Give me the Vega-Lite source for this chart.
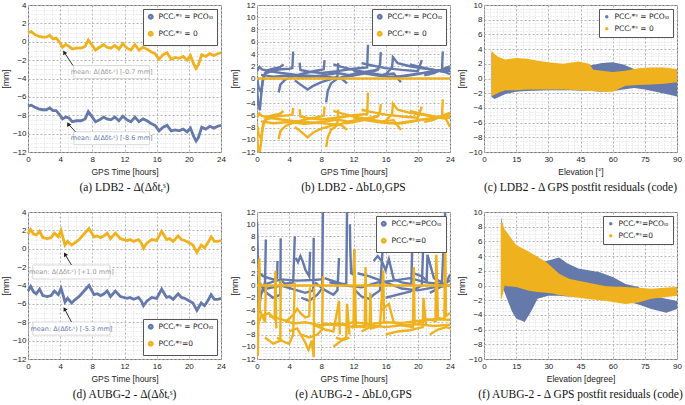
{
"$schema": "https://vega.github.io/schema/vega-lite/v6.json",
"padding": {"left": 0, "top": 0, "right": 0, "bottom": 2},
"background": "white",
"config": {
  "font": "Liberation Sans",
  "view": {"stroke": "#777", "strokeWidth": 1},
  "axis": {"labelFontSize": 8, "titleFontSize": 8.5, "labelColor": "#222", "titleColor": "#222", "titleFontWeight": "normal", "domain": false, "ticks": false, "labelPadding": 3, "titlePadding": 4, "labelOverlap": false, "labelFlush": false, "grid": true, "tickCount": 200},
  "axisY": {"labelPadding": 2, "titlePadding": 2},
  "legend": {"offset": 4, "strokeColor": "#555", "fillColor": "white", "padding": 4, "labelFont": "DejaVu Sans", "labelFontSize": 7.5, "labelColor": "#222", "symbolType": "circle", "symbolSize": 12, "symbolStrokeWidth": 2.5, "rowPadding": 3, "labelLimit": 200, "cornerRadius": 0},
  "title": {"font": "Liberation Serif", "fontSize": 11.5, "fontWeight": "normal", "color": "#111", "offset": 6, "orient": "bottom", "anchor": "middle"}
},
"datasets": {
  "a": [
    {"t":0,"v":1.0,"s":"zero"},{"t":0.4,"v":1.1,"s":"zero"},{"t":0.8,"v":0.8,"s":"zero"},{"t":1.3,"v":0.6,"s":"zero"},{"t":1.8,"v":0.5,"s":"zero"},{"t":2.3,"v":0.5,"s":"zero"},{"t":2.7,"v":0.7,"s":"zero"},{"t":3.1,"v":0.3,"s":"zero"},{"t":3.5,"v":0.4,"s":"zero"},{"t":3.9,"v":0.0,"s":"zero"},{"t":4.3,"v":-0.6,"s":"zero"},{"t":4.7,"v":-0.3,"s":"zero"},{"t":5.1,"v":-0.5,"s":"zero"},{"t":5.5,"v":-0.8,"s":"zero"},{"t":6.0,"v":-0.7,"s":"zero"},{"t":6.6,"v":-0.7,"s":"zero"},{"t":7.1,"v":-0.5,"s":"zero"},{"t":7.5,"v":0.2,"s":"zero"},{"t":7.9,"v":-0.3,"s":"zero"},{"t":8.4,"v":-0.9,"s":"zero"},{"t":8.9,"v":-0.6,"s":"zero"},{"t":9.4,"v":-0.3,"s":"zero"},{"t":9.8,"v":-0.6,"s":"zero"},{"t":10.3,"v":-0.7,"s":"zero"},{"t":10.8,"v":-0.4,"s":"zero"},{"t":11.3,"v":-0.8,"s":"zero"},{"t":11.8,"v":-0.2,"s":"zero"},{"t":12.3,"v":-0.7,"s":"zero"},{"t":12.8,"v":-0.9,"s":"zero"},{"t":13.3,"v":-0.3,"s":"zero"},{"t":13.8,"v":-0.9,"s":"zero"},{"t":14.3,"v":-0.6,"s":"zero"},{"t":14.8,"v":-0.8,"s":"zero"},{"t":15.3,"v":-1.1,"s":"zero"},{"t":15.8,"v":-1.3,"s":"zero"},{"t":16.3,"v":-1.9,"s":"zero"},{"t":16.8,"v":-1.4,"s":"zero"},{"t":17.3,"v":-1.2,"s":"zero"},{"t":17.8,"v":-1.9,"s":"zero"},{"t":18.3,"v":-1.7,"s":"zero"},{"t":18.8,"v":-1.8,"s":"zero"},{"t":19.3,"v":-1.6,"s":"zero"},{"t":19.8,"v":-2.0,"s":"zero"},{"t":20.2,"v":-1.5,"s":"zero"},{"t":20.6,"v":-2.4,"s":"zero"},{"t":20.9,"v":-2.9,"s":"zero"},{"t":21.2,"v":-2.5,"s":"zero"},{"t":21.6,"v":-1.4,"s":"zero"},{"t":22.1,"v":-1.6,"s":"zero"},{"t":22.6,"v":-1.3,"s":"zero"},{"t":23.1,"v":-1.5,"s":"zero"},{"t":23.6,"v":-1.3,"s":"zero"},{"t":24,"v":-1.2,"s":"zero"},
    {"t":0,"v":-7.0,"s":"pco"},{"t":0.4,"v":-6.9,"s":"pco"},{"t":0.8,"v":-7.1,"s":"pco"},{"t":1.3,"v":-7.3,"s":"pco"},{"t":1.8,"v":-7.4,"s":"pco"},{"t":2.3,"v":-7.4,"s":"pco"},{"t":2.7,"v":-7.2,"s":"pco"},{"t":3.1,"v":-7.5,"s":"pco"},{"t":3.5,"v":-7.5,"s":"pco"},{"t":3.9,"v":-7.9,"s":"pco"},{"t":4.3,"v":-8.4,"s":"pco"},{"t":4.7,"v":-8.2,"s":"pco"},{"t":5.1,"v":-8.3,"s":"pco"},{"t":5.5,"v":-8.7,"s":"pco"},{"t":6.0,"v":-8.6,"s":"pco"},{"t":6.6,"v":-8.6,"s":"pco"},{"t":7.1,"v":-8.4,"s":"pco"},{"t":7.5,"v":-7.6,"s":"pco"},{"t":7.9,"v":-8.1,"s":"pco"},{"t":8.4,"v":-8.7,"s":"pco"},{"t":8.9,"v":-8.5,"s":"pco"},{"t":9.4,"v":-8.2,"s":"pco"},{"t":9.8,"v":-8.4,"s":"pco"},{"t":10.3,"v":-8.5,"s":"pco"},{"t":10.8,"v":-8.2,"s":"pco"},{"t":11.3,"v":-8.6,"s":"pco"},{"t":11.8,"v":-8.1,"s":"pco"},{"t":12.3,"v":-8.5,"s":"pco"},{"t":12.8,"v":-8.7,"s":"pco"},{"t":13.3,"v":-8.2,"s":"pco"},{"t":13.8,"v":-8.7,"s":"pco"},{"t":14.3,"v":-8.4,"s":"pco"},{"t":14.8,"v":-8.6,"s":"pco"},{"t":15.3,"v":-8.9,"s":"pco"},{"t":15.8,"v":-9.1,"s":"pco"},{"t":16.3,"v":-9.7,"s":"pco"},{"t":16.8,"v":-9.3,"s":"pco"},{"t":17.3,"v":-9.1,"s":"pco"},{"t":17.8,"v":-9.7,"s":"pco"},{"t":18.3,"v":-9.6,"s":"pco"},{"t":18.8,"v":-9.7,"s":"pco"},{"t":19.3,"v":-9.5,"s":"pco"},{"t":19.8,"v":-9.8,"s":"pco"},{"t":20.2,"v":-9.4,"s":"pco"},{"t":20.6,"v":-10.3,"s":"pco"},{"t":20.9,"v":-10.8,"s":"pco"},{"t":21.2,"v":-10.4,"s":"pco"},{"t":21.6,"v":-9.3,"s":"pco"},{"t":22.1,"v":-9.5,"s":"pco"},{"t":22.6,"v":-9.2,"s":"pco"},{"t":23.1,"v":-9.4,"s":"pco"},{"t":23.6,"v":-9.2,"s":"pco"},{"t":24,"v":-9.1,"s":"pco"}
  ],
  "d": [
    {"t":0,"v":1.6,"s":"zero"},{"t":0.33,"v":2.1,"s":"zero"},{"t":0.7,"v":1.6,"s":"zero"},{"t":1.03,"v":1.5,"s":"zero"},{"t":1.44,"v":1.9,"s":"zero"},{"t":1.85,"v":1.2,"s":"zero"},{"t":2.4,"v":1.1,"s":"zero"},{"t":2.87,"v":1.2,"s":"zero"},{"t":3.28,"v":1.7,"s":"zero"},{"t":3.77,"v":1.3,"s":"zero"},{"t":4.1,"v":2.0,"s":"zero"},{"t":4.35,"v":1.2,"s":"zero"},{"t":4.6,"v":0.4,"s":"zero"},{"t":4.92,"v":0.8,"s":"zero"},{"t":5.42,"v":0.4,"s":"zero"},{"t":5.9,"v":0.7,"s":"zero"},{"t":6.36,"v":1.0,"s":"zero"},{"t":6.97,"v":1.6,"s":"zero"},{"t":7.59,"v":2.2,"s":"zero"},{"t":8.21,"v":1.3,"s":"zero"},{"t":8.6,"v":1.4,"s":"zero"},{"t":9.03,"v":1.2,"s":"zero"},{"t":9.45,"v":1.4,"s":"zero"},{"t":9.85,"v":1.7,"s":"zero"},{"t":10.26,"v":1.1,"s":"zero"},{"t":10.87,"v":1.7,"s":"zero"},{"t":11.49,"v":1.1,"s":"zero"},{"t":12.31,"v":0.9,"s":"zero"},{"t":12.7,"v":1.0,"s":"zero"},{"t":13.13,"v":0.8,"s":"zero"},{"t":13.74,"v":1.0,"s":"zero"},{"t":14.1,"v":0.6,"s":"zero"},{"t":14.36,"v":0.05,"s":"zero"},{"t":14.77,"v":0.6,"s":"zero"},{"t":15.38,"v":1.0,"s":"zero"},{"t":16.0,"v":0.9,"s":"zero"},{"t":16.62,"v":1.9,"s":"zero"},{"t":17.23,"v":1.0,"s":"zero"},{"t":17.6,"v":1.1,"s":"zero"},{"t":18.05,"v":0.8,"s":"zero"},{"t":18.67,"v":1.4,"s":"zero"},{"t":19.08,"v":1.0,"s":"zero"},{"t":19.5,"v":0.9,"s":"zero"},{"t":19.9,"v":0.7,"s":"zero"},{"t":20.51,"v":0.4,"s":"zero"},{"t":21.0,"v":-0.4,"s":"zero"},{"t":21.54,"v":0.4,"s":"zero"},{"t":21.95,"v":0.1,"s":"zero"},{"t":22.4,"v":0.7,"s":"zero"},{"t":22.77,"v":1.3,"s":"zero"},{"t":23.18,"v":0.8,"s":"zero"},{"t":23.6,"v":0.8,"s":"zero"},{"t":24,"v":0.9,"s":"zero"},
    {"t":0,"v":-4.6,"s":"pco"},{"t":0.33,"v":-4.1,"s":"pco"},{"t":0.7,"v":-4.7,"s":"pco"},{"t":1.03,"v":-4.9,"s":"pco"},{"t":1.44,"v":-4.4,"s":"pco"},{"t":1.85,"v":-5.1,"s":"pco"},{"t":2.4,"v":-5.2,"s":"pco"},{"t":2.87,"v":-5.1,"s":"pco"},{"t":3.28,"v":-4.6,"s":"pco"},{"t":3.77,"v":-5.0,"s":"pco"},{"t":4.1,"v":-4.3,"s":"pco"},{"t":4.35,"v":-5.0,"s":"pco"},{"t":4.6,"v":-5.8,"s":"pco"},{"t":4.92,"v":-5.4,"s":"pco"},{"t":5.42,"v":-5.9,"s":"pco"},{"t":5.9,"v":-5.5,"s":"pco"},{"t":6.36,"v":-5.2,"s":"pco"},{"t":6.97,"v":-4.6,"s":"pco"},{"t":7.59,"v":-4.0,"s":"pco"},{"t":8.21,"v":-5.0,"s":"pco"},{"t":8.6,"v":-4.9,"s":"pco"},{"t":9.03,"v":-5.1,"s":"pco"},{"t":9.45,"v":-4.9,"s":"pco"},{"t":9.85,"v":-4.6,"s":"pco"},{"t":10.26,"v":-5.2,"s":"pco"},{"t":10.87,"v":-4.6,"s":"pco"},{"t":11.49,"v":-5.2,"s":"pco"},{"t":12.31,"v":-5.4,"s":"pco"},{"t":12.7,"v":-5.3,"s":"pco"},{"t":13.13,"v":-5.5,"s":"pco"},{"t":13.74,"v":-5.3,"s":"pco"},{"t":14.1,"v":-5.7,"s":"pco"},{"t":14.36,"v":-6.2,"s":"pco"},{"t":14.77,"v":-5.7,"s":"pco"},{"t":15.38,"v":-5.3,"s":"pco"},{"t":16.0,"v":-5.4,"s":"pco"},{"t":16.62,"v":-4.4,"s":"pco"},{"t":17.23,"v":-5.3,"s":"pco"},{"t":17.6,"v":-5.2,"s":"pco"},{"t":18.05,"v":-5.5,"s":"pco"},{"t":18.67,"v":-4.9,"s":"pco"},{"t":19.08,"v":-5.3,"s":"pco"},{"t":19.5,"v":-5.4,"s":"pco"},{"t":19.9,"v":-5.6,"s":"pco"},{"t":20.51,"v":-5.9,"s":"pco"},{"t":21.0,"v":-6.7,"s":"pco"},{"t":21.54,"v":-5.9,"s":"pco"},{"t":21.95,"v":-6.2,"s":"pco"},{"t":22.4,"v":-5.6,"s":"pco"},{"t":22.77,"v":-5.0,"s":"pco"},{"t":23.18,"v":-5.5,"s":"pco"},{"t":23.6,"v":-5.5,"s":"pco"},{"t":24,"v":-5.4,"s":"pco"}
  ],
  "b": [
    {"a":"b1","t":0,"v":-1.5,"s":"pco"},{"a":"b1","t":0.15,"v":-4,"s":"pco"},{"a":"b1","t":0.35,"v":-5.2,"s":"pco"},{"a":"b1","t":0.5,"v":-3,"s":"pco"},{"a":"b1","t":0.7,"v":-0.5,"s":"pco"},{"a":"b1","t":1,"v":0.8,"s":"pco"},{"a":"b1","t":2,"v":1.3,"s":"pco"},{"a":"b1","t":3,"v":1.5,"s":"pco"},{"a":"b1","t":4,"v":1.6,"s":"pco"},{"a":"b1","t":4.4,"v":1.7,"s":"pco"},{"a":"b1","t":4.5,"v":4.4,"s":"pco"},
    {"a":"b2","t":0,"v":1.2,"s":"pco"},{"a":"b2","t":0.3,"v":1.9,"s":"pco"},{"a":"b2","t":0.6,"v":1.5,"s":"pco"},{"a":"b2","t":1.5,"v":1.2,"s":"pco"},{"a":"b2","t":3,"v":0.9,"s":"pco"},{"a":"b2","t":5,"v":0.6,"s":"pco"},{"a":"b2","t":7,"v":0.4,"s":"pco"},{"a":"b2","t":9,"v":0.2,"s":"pco"},{"a":"b2","t":10.5,"v":0,"s":"pco"},{"a":"b2","t":11.2,"v":-0.8,"s":"pco"},
    {"a":"b3","t":0,"v":0.2,"s":"pco"},{"a":"b3","t":0.2,"v":-1.5,"s":"pco"},{"a":"b3","t":0.5,"v":-2.2,"s":"pco"},{"a":"b3","t":0.8,"v":0.3,"s":"pco"},{"a":"b3","t":1.2,"v":1.3,"s":"pco"},{"a":"b3","t":2,"v":1.6,"s":"pco"},{"a":"b3","t":2.8,"v":1.8,"s":"pco"},{"a":"b3","t":3.3,"v":2.3,"s":"pco"},
    {"a":"b4","t":2.7,"v":-2.3,"s":"pco"},{"a":"b4","t":2.9,"v":-1.0,"s":"pco"},{"a":"b4","t":3.5,"v":-0.2,"s":"pco"},{"a":"b4","t":4.5,"v":0.4,"s":"pco"},{"a":"b4","t":6,"v":0.9,"s":"pco"},{"a":"b4","t":7.5,"v":1.3,"s":"pco"},{"a":"b4","t":8.3,"v":1.5,"s":"pco"},{"a":"b4","t":8.4,"v":3.0,"s":"pco"},
    {"a":"b5","t":4.7,"v":-0.3,"s":"pco"},{"a":"b5","t":5.2,"v":-0.8,"s":"pco"},{"a":"b5","t":6.3,"v":-1.8,"s":"pco"},{"a":"b5","t":7,"v":-1.2,"s":"pco"},{"a":"b5","t":8,"v":-0.6,"s":"pco"},{"a":"b5","t":9.5,"v":0,"s":"pco"},{"a":"b5","t":10,"v":0.3,"s":"pco"},{"a":"b5","t":10.1,"v":2.5,"s":"pco"},
    {"a":"b6","t":5.3,"v":2.6,"s":"pco"},{"a":"b6","t":5.4,"v":1.4,"s":"pco"},{"a":"b6","t":6.5,"v":1.1,"s":"pco"},{"a":"b6","t":8,"v":0.9,"s":"pco"},{"a":"b6","t":10,"v":1.2,"s":"pco"},{"a":"b6","t":12,"v":1.6,"s":"pco"},{"a":"b6","t":13.7,"v":1.8,"s":"pco"},{"a":"b6","t":13.8,"v":5.5,"s":"pco"},
    {"a":"b7","t":8.6,"v":-3.9,"s":"pco"},{"a":"b7","t":8.8,"v":-2,"s":"pco"},{"a":"b7","t":9.2,"v":-0.8,"s":"pco"},{"a":"b7","t":10,"v":0,"s":"pco"},{"a":"b7","t":11.5,"v":0.6,"s":"pco"},{"a":"b7","t":13,"v":1.0,"s":"pco"},{"a":"b7","t":14.5,"v":1.3,"s":"pco"},{"a":"b7","t":15.2,"v":1.6,"s":"pco"},
    {"a":"b8","t":9.5,"v":2.3,"s":"pco"},{"a":"b8","t":10.5,"v":1.9,"s":"pco"},{"a":"b8","t":12,"v":1.4,"s":"pco"},{"a":"b8","t":14,"v":0.9,"s":"pco"},{"a":"b8","t":15.5,"v":0.6,"s":"pco"},{"a":"b8","t":17,"v":0.8,"s":"pco"},{"a":"b8","t":17.9,"v":-0.6,"s":"pco"},
    {"a":"b9","t":11,"v":0.3,"s":"pco"},{"a":"b9","t":12.5,"v":0.6,"s":"pco"},{"a":"b9","t":14,"v":1.0,"s":"pco"},{"a":"b9","t":15,"v":1.4,"s":"pco"},{"a":"b9","t":15.3,"v":2.3,"s":"pco"},{"a":"b9","t":15.4,"v":4.3,"s":"pco"},
    {"a":"b10","t":13,"v":2.5,"s":"pco"},{"a":"b10","t":14,"v":2.2,"s":"pco"},{"a":"b10","t":16,"v":1.7,"s":"pco"},{"a":"b10","t":18,"v":1.4,"s":"pco"},{"a":"b10","t":20,"v":1.2,"s":"pco"},{"a":"b10","t":20.5,"v":3.0,"s":"pco"},
    {"a":"b11","t":15.6,"v":0.5,"s":"pco"},{"a":"b11","t":16,"v":0.7,"s":"pco"},{"a":"b11","t":16.8,"v":1.8,"s":"pco"},{"a":"b11","t":16.9,"v":3.5,"s":"pco"},{"a":"b11","t":17.5,"v":2.5,"s":"pco"},{"a":"b11","t":19,"v":2.0,"s":"pco"},{"a":"b11","t":21,"v":1.6,"s":"pco"},{"a":"b11","t":23,"v":1.2,"s":"pco"},{"a":"b11","t":23.1,"v":4.4,"s":"pco"},
    {"a":"b12","t":17,"v":0.2,"s":"pco"},{"a":"b12","t":18.5,"v":0.5,"s":"pco"},{"a":"b12","t":20,"v":0.8,"s":"pco"},{"a":"b12","t":21.5,"v":1.0,"s":"pco"},{"a":"b12","t":23,"v":1.4,"s":"pco"},{"a":"b12","t":24,"v":1.6,"s":"pco"},
    {"a":"b13","t":19,"v":2.3,"s":"pco"},{"a":"b13","t":20.5,"v":1.8,"s":"pco"},{"a":"b13","t":22,"v":1.4,"s":"pco"},{"a":"b13","t":23.5,"v":1.0,"s":"pco"},{"a":"b13","t":24,"v":0.7,"s":"pco"},
    {"a":"b14","t":20.8,"v":0.5,"s":"pco"},{"a":"b14","t":22,"v":0.9,"s":"pco"},{"a":"b14","t":23.4,"v":1.7,"s":"pco"},{"a":"b14","t":24,"v":2.0,"s":"pco"},
    {"a":"b15","t":12,"v":1.2,"s":"pco"},{"a":"b15","t":13.5,"v":0.8,"s":"pco"},{"a":"b15","t":15,"v":0.5,"s":"pco"},{"a":"b15","t":16.5,"v":0.3,"s":"pco"},{"a":"b15","t":18,"v":0.3,"s":"pco"},{"a":"b15","t":19.5,"v":0.6,"s":"pco"},{"a":"b15","t":21,"v":1.0,"s":"pco"},{"a":"b15","t":22.5,"v":1.3,"s":"pco"},{"a":"b15","t":24,"v":1.2,"s":"pco"},
    {"a":"b16","t":0.5,"v":0.6,"s":"pco"},{"a":"b16","t":2,"v":0.3,"s":"pco"},{"a":"b16","t":4,"v":0.5,"s":"pco"},{"a":"b16","t":6,"v":0.2,"s":"pco"},{"a":"b16","t":8,"v":0.5,"s":"pco"},{"a":"b16","t":10,"v":0.9,"s":"pco"},{"a":"b16","t":12,"v":0.4,"s":"pco"},
    {"a":"o0","t":0,"v":0,"s":"zero"},{"a":"o0","t":24,"v":0,"s":"zero"},
    {"a":"o1","t":0,"v":-9.1,"s":"zero"},{"a":"o1","t":0.15,"v":-11.6,"s":"zero"},{"a":"o1","t":0.35,"v":-12,"s":"zero"},{"a":"o1","t":0.5,"v":-10.6,"s":"zero"},{"a":"o1","t":0.7,"v":-8.1,"s":"zero"},{"a":"o1","t":1,"v":-6.8,"s":"zero"},{"a":"o1","t":2,"v":-6.3,"s":"zero"},{"a":"o1","t":3,"v":-6.1,"s":"zero"},{"a":"o1","t":4,"v":-6.0,"s":"zero"},{"a":"o1","t":4.4,"v":-5.9,"s":"zero"},{"a":"o1","t":4.5,"v":-4.8,"s":"zero"},
    {"a":"o2","t":0,"v":-6.4,"s":"zero"},{"a":"o2","t":0.3,"v":-5.7,"s":"zero"},{"a":"o2","t":0.6,"v":-6.1,"s":"zero"},{"a":"o2","t":1.5,"v":-6.4,"s":"zero"},{"a":"o2","t":3,"v":-6.7,"s":"zero"},{"a":"o2","t":5,"v":-7.0,"s":"zero"},{"a":"o2","t":7,"v":-7.2,"s":"zero"},{"a":"o2","t":9,"v":-7.4,"s":"zero"},{"a":"o2","t":10.5,"v":-7.6,"s":"zero"},{"a":"o2","t":11.2,"v":-8.4,"s":"zero"},
    {"a":"o3","t":0,"v":-7.4,"s":"zero"},{"a":"o3","t":0.2,"v":-9.1,"s":"zero"},{"a":"o3","t":0.5,"v":-9.8,"s":"zero"},{"a":"o3","t":0.8,"v":-7.3,"s":"zero"},{"a":"o3","t":1.2,"v":-6.3,"s":"zero"},{"a":"o3","t":2,"v":-6.0,"s":"zero"},{"a":"o3","t":2.8,"v":-5.8,"s":"zero"},{"a":"o3","t":3.3,"v":-5.3,"s":"zero"},
    {"a":"o4","t":2.7,"v":-9.9,"s":"zero"},{"a":"o4","t":2.9,"v":-8.6,"s":"zero"},{"a":"o4","t":3.5,"v":-7.8,"s":"zero"},{"a":"o4","t":4.5,"v":-7.2,"s":"zero"},{"a":"o4","t":6,"v":-6.7,"s":"zero"},{"a":"o4","t":7.5,"v":-6.3,"s":"zero"},{"a":"o4","t":8.3,"v":-6.1,"s":"zero"},{"a":"o4","t":8.4,"v":-4.6,"s":"zero"},
    {"a":"o5","t":4.7,"v":-7.9,"s":"zero"},{"a":"o5","t":5.2,"v":-8.4,"s":"zero"},{"a":"o5","t":6.3,"v":-9.6,"s":"zero"},{"a":"o5","t":7,"v":-8.8,"s":"zero"},{"a":"o5","t":8,"v":-8.2,"s":"zero"},{"a":"o5","t":9.5,"v":-7.6,"s":"zero"},{"a":"o5","t":10,"v":-7.3,"s":"zero"},{"a":"o5","t":10.1,"v":-5.1,"s":"zero"},
    {"a":"o6","t":5.3,"v":-5.0,"s":"zero"},{"a":"o6","t":5.4,"v":-6.2,"s":"zero"},{"a":"o6","t":6.5,"v":-6.5,"s":"zero"},{"a":"o6","t":8,"v":-6.7,"s":"zero"},{"a":"o6","t":10,"v":-6.4,"s":"zero"},{"a":"o6","t":12,"v":-6.0,"s":"zero"},{"a":"o6","t":13.7,"v":-5.8,"s":"zero"},{"a":"o6","t":13.8,"v":-2.3,"s":"zero"},
    {"a":"o7","t":8.6,"v":-11.2,"s":"zero"},{"a":"o7","t":8.8,"v":-9.6,"s":"zero"},{"a":"o7","t":9.2,"v":-8.4,"s":"zero"},{"a":"o7","t":10,"v":-7.6,"s":"zero"},{"a":"o7","t":11.5,"v":-7.0,"s":"zero"},{"a":"o7","t":13,"v":-6.6,"s":"zero"},{"a":"o7","t":14.5,"v":-6.3,"s":"zero"},{"a":"o7","t":15.2,"v":-6.0,"s":"zero"},
    {"a":"o8","t":9.5,"v":-5.3,"s":"zero"},{"a":"o8","t":10.5,"v":-5.7,"s":"zero"},{"a":"o8","t":12,"v":-6.2,"s":"zero"},{"a":"o8","t":14,"v":-6.7,"s":"zero"},{"a":"o8","t":15.5,"v":-7.0,"s":"zero"},{"a":"o8","t":17,"v":-6.8,"s":"zero"},{"a":"o8","t":17.9,"v":-8.4,"s":"zero"},
    {"a":"o9","t":11,"v":-7.3,"s":"zero"},{"a":"o9","t":12.5,"v":-7.0,"s":"zero"},{"a":"o9","t":14,"v":-6.6,"s":"zero"},{"a":"o9","t":15,"v":-6.2,"s":"zero"},{"a":"o9","t":15.3,"v":-5.3,"s":"zero"},{"a":"o9","t":15.4,"v":-4.2,"s":"zero"},
    {"a":"o10","t":13,"v":-5.1,"s":"zero"},{"a":"o10","t":14,"v":-5.4,"s":"zero"},{"a":"o10","t":16,"v":-5.9,"s":"zero"},{"a":"o10","t":18,"v":-6.2,"s":"zero"},{"a":"o10","t":20,"v":-6.4,"s":"zero"},{"a":"o10","t":20.5,"v":-4.6,"s":"zero"},
    {"a":"o11","t":15.6,"v":-7.1,"s":"zero"},{"a":"o11","t":16,"v":-6.9,"s":"zero"},{"a":"o11","t":16.8,"v":-5.8,"s":"zero"},{"a":"o11","t":16.9,"v":-4.1,"s":"zero"},{"a":"o11","t":17.5,"v":-5.1,"s":"zero"},{"a":"o11","t":19,"v":-5.6,"s":"zero"},{"a":"o11","t":21,"v":-6.0,"s":"zero"},{"a":"o11","t":23,"v":-6.4,"s":"zero"},{"a":"o11","t":23.1,"v":-3.4,"s":"zero"},
    {"a":"o12","t":17,"v":-7.4,"s":"zero"},{"a":"o12","t":18.5,"v":-7.1,"s":"zero"},{"a":"o12","t":20,"v":-6.8,"s":"zero"},{"a":"o12","t":21.5,"v":-6.6,"s":"zero"},{"a":"o12","t":23,"v":-6.2,"s":"zero"},{"a":"o12","t":24,"v":-6.0,"s":"zero"},
    {"a":"o13","t":19,"v":-5.3,"s":"zero"},{"a":"o13","t":20.5,"v":-5.8,"s":"zero"},{"a":"o13","t":22,"v":-6.2,"s":"zero"},{"a":"o13","t":23.5,"v":-6.6,"s":"zero"},{"a":"o13","t":24,"v":-7.9,"s":"zero"},
    {"a":"o14","t":20.8,"v":-7.1,"s":"zero"},{"a":"o14","t":22,"v":-6.7,"s":"zero"},{"a":"o14","t":23.4,"v":-5.9,"s":"zero"},{"a":"o14","t":24,"v":-5.6,"s":"zero"},
    {"a":"o15","t":12,"v":-6.4,"s":"zero"},{"a":"o15","t":13.5,"v":-6.8,"s":"zero"},{"a":"o15","t":15,"v":-7.1,"s":"zero"},{"a":"o15","t":16.5,"v":-7.3,"s":"zero"},{"a":"o15","t":18,"v":-7.3,"s":"zero"},{"a":"o15","t":19.5,"v":-7.0,"s":"zero"},{"a":"o15","t":21,"v":-6.6,"s":"zero"},{"a":"o15","t":22.5,"v":-6.3,"s":"zero"},{"a":"o15","t":24,"v":-6.4,"s":"zero"},
    {"a":"o16","t":0.5,"v":-7.0,"s":"zero"},{"a":"o16","t":2,"v":-7.3,"s":"zero"},{"a":"o16","t":4,"v":-7.1,"s":"zero"},{"a":"o16","t":6,"v":-7.4,"s":"zero"},{"a":"o16","t":8,"v":-7.1,"s":"zero"},{"a":"o16","t":10,"v":-6.7,"s":"zero"},{"a":"o16","t":12,"v":-7.2,"s":"zero"}
  ],
  "e": [
    {"a":"e1","t":0,"v":1.5,"s":"pco"},{"a":"e1","t":0.2,"v":-3.9,"s":"pco"},{"a":"e1","t":0.5,"v":-1.5,"s":"pco"},{"a":"e1","t":1,"v":0.5,"s":"pco"},{"a":"e1","t":1.1,"v":7.5,"s":"pco"},
    {"a":"e2","t":0,"v":10.5,"s":"pco"},{"a":"e2","t":0.05,"v":8,"s":"pco"},{"a":"e2","t":0.1,"v":5,"s":"pco"},{"a":"e2","t":0.3,"v":2,"s":"pco"},{"a":"e2","t":0.8,"v":1.5,"s":"pco"},{"a":"e2","t":2,"v":1.0,"s":"pco"},{"a":"e2","t":2.5,"v":1.2,"s":"pco"},{"a":"e2","t":2.55,"v":4.0,"s":"pco"},
    {"a":"e3","t":0.3,"v":0.5,"s":"pco"},{"a":"e3","t":1,"v":-1,"s":"pco"},{"a":"e3","t":2,"v":-2,"s":"pco"},{"a":"e3","t":2.9,"v":-1.5,"s":"pco"},{"a":"e3","t":2.95,"v":7.7,"s":"pco"},
    {"a":"e4","t":3,"v":0.8,"s":"pco"},{"a":"e4","t":3.5,"v":0.3,"s":"pco"},{"a":"e4","t":4.5,"v":0.5,"s":"pco"},{"a":"e4","t":4.7,"v":8.0,"s":"pco"},
    {"a":"e5","t":4.8,"v":4.5,"s":"pco"},{"a":"e5","t":5.1,"v":3.8,"s":"pco"},{"a":"e5","t":5.4,"v":4.8,"s":"pco"},{"a":"e5","t":5.7,"v":3.9,"s":"pco"},{"a":"e5","t":6.0,"v":2.6,"s":"pco"},{"a":"e5","t":6.5,"v":1.5,"s":"pco"},{"a":"e5","t":6.6,"v":5.5,"s":"pco"},
    {"a":"e6","t":1.2,"v":-0.5,"s":"pco"},{"a":"e6","t":3,"v":0,"s":"pco"},{"a":"e6","t":5,"v":-0.8,"s":"pco"},{"a":"e6","t":6,"v":-1.2,"s":"pco"},{"a":"e6","t":7,"v":-0.8,"s":"pco"},{"a":"e6","t":7.05,"v":7.8,"s":"pco"},
    {"a":"e7","t":5.5,"v":-2,"s":"pco"},{"a":"e7","t":6.5,"v":-2.5,"s":"pco"},{"a":"e7","t":7.5,"v":-1.5,"s":"pco"},{"a":"e7","t":8.1,"v":-0.5,"s":"pco"},{"a":"e7","t":8.2,"v":12,"s":"pco"},
    {"a":"e8","t":7.2,"v":0.5,"s":"pco"},{"a":"e8","t":8.5,"v":-0.8,"s":"pco"},{"a":"e8","t":9.5,"v":-1.5,"s":"pco"},{"a":"e8","t":10,"v":-0.8,"s":"pco"},{"a":"e8","t":10.2,"v":4.5,"s":"pco"},
    {"a":"e9","t":8.4,"v":1.2,"s":"pco"},{"a":"e9","t":9.3,"v":0.8,"s":"pco"},{"a":"e9","t":10.5,"v":0.3,"s":"pco"},{"a":"e9","t":11.1,"v":0.2,"s":"pco"},{"a":"e9","t":11.2,"v":12,"s":"pco"},
    {"a":"e10","t":11.55,"v":10,"s":"pco"},{"a":"e10","t":11.6,"v":6,"s":"pco"},{"a":"e10","t":11.7,"v":2,"s":"pco"},{"a":"e10","t":12,"v":1.8,"s":"pco"},{"a":"e10","t":12.1,"v":5.8,"s":"pco"},
    {"a":"e11","t":12.2,"v":-0.8,"s":"pco"},{"a":"e11","t":13,"v":-1.8,"s":"pco"},{"a":"e11","t":14,"v":-2.2,"s":"pco"},{"a":"e11","t":14.5,"v":-1.5,"s":"pco"},{"a":"e11","t":15.3,"v":-0.8,"s":"pco"},{"a":"e11","t":15.7,"v":7.5,"s":"pco"},
    {"a":"e12","t":14.5,"v":4.0,"s":"pco"},{"a":"e12","t":15,"v":4.8,"s":"pco"},{"a":"e12","t":15.5,"v":4.0,"s":"pco"},{"a":"e12","t":16,"v":2.5,"s":"pco"},{"a":"e12","t":16.4,"v":4.3,"s":"pco"},{"a":"e12","t":17,"v":1.0,"s":"pco"},{"a":"e12","t":18,"v":0.5,"s":"pco"},{"a":"e12","t":19.2,"v":0.2,"s":"pco"},{"a":"e12","t":19.3,"v":6.0,"s":"pco"},
    {"a":"e13","t":16,"v":-2.0,"s":"pco"},{"a":"e13","t":17.5,"v":-1.5,"s":"pco"},{"a":"e13","t":19,"v":-1.0,"s":"pco"},{"a":"e13","t":20.5,"v":0,"s":"pco"},{"a":"e13","t":20.7,"v":7.7,"s":"pco"},
    {"a":"e14","t":19.5,"v":2.0,"s":"pco"},{"a":"e14","t":20.5,"v":1.5,"s":"pco"},{"a":"e14","t":21.1,"v":0.8,"s":"pco"},{"a":"e14","t":21.2,"v":5.0,"s":"pco"},{"a":"e14","t":22,"v":1.2,"s":"pco"},{"a":"e14","t":23,"v":0.5,"s":"pco"},{"a":"e14","t":23.4,"v":12,"s":"pco"},
    {"a":"e15","t":21.5,"v":-1.2,"s":"pco"},{"a":"e15","t":22.5,"v":-0.5,"s":"pco"},{"a":"e15","t":23.5,"v":0.3,"s":"pco"},{"a":"e15","t":24,"v":1.8,"s":"pco"},
    {"a":"e16","t":9,"v":0.5,"s":"pco"},{"a":"e16","t":11,"v":0,"s":"pco"},{"a":"e16","t":13,"v":-0.3,"s":"pco"},{"a":"e16","t":15,"v":0.5,"s":"pco"},{"a":"e16","t":17,"v":0.8,"s":"pco"},{"a":"e16","t":19,"v":1.2,"s":"pco"},{"a":"e16","t":21,"v":0.5,"s":"pco"},{"a":"e16","t":23,"v":0.2,"s":"pco"},{"a":"e16","t":24,"v":0.8,"s":"pco"},
    {"a":"e17","t":12.5,"v":2.0,"s":"pco"},{"a":"e17","t":14,"v":1.5,"s":"pco"},{"a":"e17","t":16,"v":0.5,"s":"pco"},{"a":"e17","t":18,"v":-0.5,"s":"pco"},{"a":"e17","t":20,"v":-0.8,"s":"pco"},{"a":"e17","t":22,"v":-0.3,"s":"pco"},{"a":"e17","t":24,"v":0,"s":"pco"},
    {"a":"e18","t":0,"v":-2.5,"s":"pco"},{"a":"e18","t":1.2,"v":0.3,"s":"pco"},{"a":"e18","t":3,"v":1.0,"s":"pco"},{"a":"e18","t":5,"v":0.8,"s":"pco"},{"a":"e18","t":7,"v":0.9,"s":"pco"},{"a":"e18","t":8,"v":1.0,"s":"pco"},
    {"a":"f0","t":0,"v":0,"s":"zero"},{"a":"f0","t":24,"v":0,"s":"zero"},
    {"a":"f1","t":0,"v":-10,"s":"zero"},{"a":"f1","t":0.1,"v":-11.5,"s":"zero"},{"a":"f1","t":0.3,"v":4.4,"s":"zero"},{"a":"f1","t":0.35,"v":-4,"s":"zero"},{"a":"f1","t":1,"v":-6,"s":"zero"},{"a":"f1","t":1.1,"v":0.3,"s":"zero"},
    {"a":"f2","t":0.1,"v":-6.5,"s":"zero"},{"a":"f2","t":0.5,"v":-5,"s":"zero"},{"a":"f2","t":1.5,"v":-4.5,"s":"zero"},{"a":"f2","t":2.2,"v":-5.5,"s":"zero"},{"a":"f2","t":2.3,"v":2.4,"s":"zero"},{"a":"f2","t":2.4,"v":-7,"s":"zero"},
    {"a":"f3","t":1,"v":-8.5,"s":"zero"},{"a":"f3","t":2,"v":-9.5,"s":"zero"},{"a":"f3","t":2.9,"v":-9,"s":"zero"},{"a":"f3","t":2.95,"v":0.8,"s":"zero"},
    {"a":"f4","t":2.5,"v":-8.5,"s":"zero"},{"a":"f4","t":3.5,"v":-9.3,"s":"zero"},{"a":"f4","t":4,"v":-9.5,"s":"zero"},{"a":"f4","t":4.5,"v":-8,"s":"zero"},{"a":"f4","t":4.7,"v":0.5,"s":"zero"},
    {"a":"f5","t":3.5,"v":-6,"s":"zero"},{"a":"f5","t":4.5,"v":-4.8,"s":"zero"},{"a":"f5","t":5,"v":-3.8,"s":"zero"},{"a":"f5","t":5.4,"v":-4.5,"s":"zero"},{"a":"f5","t":6,"v":-5.2,"s":"zero"},{"a":"f5","t":6.5,"v":-5,"s":"zero"},{"a":"f5","t":6.6,"v":-0.3,"s":"zero"},
    {"a":"f6","t":4,"v":-7.5,"s":"zero"},{"a":"f6","t":5,"v":-7.0,"s":"zero"},{"a":"f6","t":6,"v":-9.3,"s":"zero"},{"a":"f6","t":6.4,"v":-10.5,"s":"zero"},{"a":"f6","t":6.8,"v":-9,"s":"zero"},{"a":"f6","t":7.05,"v":-11.7,"s":"zero"},{"a":"f6","t":7.1,"v":-0.5,"s":"zero"},
    {"a":"f7","t":5.5,"v":-8,"s":"zero"},{"a":"f7","t":6.5,"v":-8.5,"s":"zero"},{"a":"f7","t":7.5,"v":-8,"s":"zero"},{"a":"f7","t":8.1,"v":-7.2,"s":"zero"},{"a":"f7","t":8.2,"v":1.5,"s":"zero"},
    {"a":"f8","t":7.2,"v":-6.5,"s":"zero"},{"a":"f8","t":8.5,"v":-7.2,"s":"zero"},{"a":"f8","t":9.5,"v":-7.5,"s":"zero"},{"a":"f8","t":10.2,"v":-2.5,"s":"zero"},{"a":"f8","t":10.3,"v":-8,"s":"zero"},
    {"a":"f9","t":9.8,"v":-8.5,"s":"zero"},{"a":"f9","t":10.5,"v":-8.8,"s":"zero"},{"a":"f9","t":11.1,"v":-8.5,"s":"zero"},{"a":"f9","t":11.2,"v":-3,"s":"zero"},{"a":"f9","t":11.5,"v":-8,"s":"zero"},
    {"a":"f10","t":11.8,"v":-7,"s":"zero"},{"a":"f10","t":12,"v":-6.5,"s":"zero"},{"a":"f10","t":12.1,"v":6,"s":"zero"},{"a":"f10","t":12.3,"v":-6.6,"s":"zero"},{"a":"f10","t":13.4,"v":-6.8,"s":"zero"},{"a":"f10","t":13.5,"v":3,"s":"zero"},{"a":"f10","t":13.6,"v":-6.7,"s":"zero"},
    {"a":"f11","t":13,"v":-7.5,"s":"zero"},{"a":"f11","t":14,"v":-6.8,"s":"zero"},{"a":"f11","t":14.1,"v":-1.2,"s":"zero"},{"a":"f11","t":14.2,"v":-7,"s":"zero"},{"a":"f11","t":15.3,"v":-6.6,"s":"zero"},{"a":"f11","t":15.7,"v":2.5,"s":"zero"},{"a":"f11","t":15.8,"v":-6,"s":"zero"},
    {"a":"f12","t":15.5,"v":-4,"s":"zero"},{"a":"f12","t":16.4,"v":-3,"s":"zero"},{"a":"f12","t":17,"v":-6,"s":"zero"},{"a":"f12","t":18,"v":-6.5,"s":"zero"},{"a":"f12","t":19.4,"v":-6.8,"s":"zero"},{"a":"f12","t":19.5,"v":3,"s":"zero"},{"a":"f12","t":19.6,"v":-6.5,"s":"zero"},
    {"a":"f13","t":16,"v":-8,"s":"zero"},{"a":"f13","t":17.5,"v":-7.5,"s":"zero"},{"a":"f13","t":19,"v":-7.3,"s":"zero"},{"a":"f13","t":20.6,"v":-6.8,"s":"zero"},{"a":"f13","t":20.7,"v":-2,"s":"zero"},{"a":"f13","t":21,"v":-6.5,"s":"zero"},
    {"a":"f14","t":20,"v":-6.2,"s":"zero"},{"a":"f14","t":21.2,"v":-5.5,"s":"zero"},{"a":"f14","t":22.2,"v":-5.8,"s":"zero"},{"a":"f14","t":22.3,"v":5,"s":"zero"},{"a":"f14","t":22.5,"v":-5.3,"s":"zero"},{"a":"f14","t":23.3,"v":-5.5,"s":"zero"},{"a":"f14","t":23.4,"v":8,"s":"zero"},{"a":"f14","t":23.5,"v":-5,"s":"zero"},{"a":"f14","t":24,"v":-4.5,"s":"zero"},
    {"a":"f15","t":21.5,"v":-8,"s":"zero"},{"a":"f15","t":22.5,"v":-7.2,"s":"zero"},{"a":"f15","t":23.5,"v":-6.8,"s":"zero"},{"a":"f15","t":24,"v":-7,"s":"zero"},
    {"a":"f16","t":8,"v":-6.2,"s":"zero"},{"a":"f16","t":10,"v":-6.5,"s":"zero"},{"a":"f16","t":12,"v":-6.0,"s":"zero"},{"a":"f16","t":14,"v":-6.3,"s":"zero"},{"a":"f16","t":16,"v":-6,"s":"zero"},{"a":"f16","t":18,"v":-6.1,"s":"zero"},{"a":"f16","t":20,"v":-5.8,"s":"zero"},{"a":"f16","t":22,"v":-5.5,"s":"zero"},{"a":"f16","t":24,"v":-5.6,"s":"zero"},
    {"a":"f17","t":1.5,"v":-5,"s":"zero"},{"a":"f17","t":3,"v":-5.5,"s":"zero"},{"a":"f17","t":4.5,"v":-6.2,"s":"zero"},{"a":"f17","t":6,"v":-6,"s":"zero"},{"a":"f17","t":8,"v":-6.5,"s":"zero"},{"a":"f17","t":10,"v":-6.2,"s":"zero"},{"a":"f17","t":12,"v":-6.8,"s":"zero"},{"a":"f17","t":14,"v":-6.5,"s":"zero"},{"a":"f17","t":16,"v":-6.8,"s":"zero"},{"a":"f17","t":18,"v":-6.5,"s":"zero"},{"a":"f17","t":20,"v":-6.3,"s":"zero"},{"a":"f17","t":22,"v":-6.6,"s":"zero"},{"a":"f17","t":24,"v":-6.4,"s":"zero"},
    {"a":"f18","t":9.5,"v":-10,"s":"zero"},{"a":"f18","t":10.5,"v":-9,"s":"zero"},{"a":"f18","t":11.5,"v":-8.5,"s":"zero"}
  ],
  "c": [
    {"el":3.5,"lo":-2.5,"hi":3.5,"s":"pco"},{"el":5,"lo":-2.8,"hi":3.0,"s":"pco"},{"el":7,"lo":-2.5,"hi":2.6,"s":"pco"},{"el":10,"lo":-2.1,"hi":2.4,"s":"pco"},{"el":15,"lo":-1.8,"hi":2.4,"s":"pco"},{"el":20,"lo":-1.7,"hi":2.2,"s":"pco"},{"el":30,"lo":-1.6,"hi":1.9,"s":"pco"},{"el":40,"lo":-1.6,"hi":1.8,"s":"pco"},{"el":50,"lo":-1.7,"hi":1.8,"s":"pco"},{"el":55,"lo":-1.8,"hi":2.1,"s":"pco"},{"el":60,"lo":-1.7,"hi":2.2,"s":"pco"},{"el":65,"lo":-1.5,"hi":1.9,"s":"pco"},{"el":70,"lo":-1.3,"hi":1.3,"s":"pco"},{"el":75,"lo":-1.5,"hi":0.8,"s":"pco"},{"el":80,"lo":-1.8,"hi":0.6,"s":"pco"},{"el":85,"lo":-2.1,"hi":0.3,"s":"pco"},{"el":90,"lo":-2.45,"hi":0.2,"s":"pco"},
    {"el":3.5,"lo":-2.4,"hi":3.8,"s":"zero"},{"el":5,"lo":-2.2,"hi":3.3,"s":"zero"},{"el":7,"lo":-1.9,"hi":2.9,"s":"zero"},{"el":10,"lo":-1.6,"hi":2.6,"s":"zero"},{"el":15,"lo":-1.6,"hi":2.8,"s":"zero"},{"el":20,"lo":-1.5,"hi":2.7,"s":"zero"},{"el":25,"lo":-1.5,"hi":2.4,"s":"zero"},{"el":30,"lo":-1.5,"hi":2.2,"s":"zero"},{"el":37,"lo":-1.5,"hi":2.0,"s":"zero"},{"el":44,"lo":-1.6,"hi":2.3,"s":"zero"},{"el":49,"lo":-1.7,"hi":2.0,"s":"zero"},{"el":51,"lo":-1.7,"hi":1.2,"s":"zero"},{"el":55,"lo":-1.8,"hi":1.05,"s":"zero"},{"el":60,"lo":-1.8,"hi":0.9,"s":"zero"},{"el":66,"lo":-1.0,"hi":1.05,"s":"zero"},{"el":72,"lo":-0.9,"hi":1.4,"s":"zero"},{"el":78,"lo":-0.8,"hi":1.5,"s":"zero"},{"el":84,"lo":-0.7,"hi":1.5,"s":"zero"},{"el":90,"lo":-0.5,"hi":1.3,"s":"zero"}
  ],
  "f": [
    {"el":8,"lo":0,"hi":9.4,"s":"pco"},{"el":9,"lo":-0.5,"hi":7.8,"s":"pco"},{"el":11,"lo":-2,"hi":6.5,"s":"pco"},{"el":13,"lo":-3.5,"hi":5,"s":"pco"},{"el":15,"lo":-4.5,"hi":4,"s":"pco"},{"el":19,"lo":-4.95,"hi":3.0,"s":"pco"},{"el":22,"lo":-3.5,"hi":2.9,"s":"pco"},{"el":25,"lo":-1.8,"hi":3.1,"s":"pco"},{"el":30,"lo":-1.4,"hi":3.4,"s":"pco"},{"el":35,"lo":-1.4,"hi":3.8,"s":"pco"},{"el":39,"lo":-1.5,"hi":3.0,"s":"pco"},{"el":44,"lo":-1.5,"hi":2.3,"s":"pco"},{"el":50,"lo":-1.6,"hi":2.0,"s":"pco"},{"el":54,"lo":-1.7,"hi":1.8,"s":"pco"},{"el":60,"lo":-1.8,"hi":1.15,"s":"pco"},{"el":66,"lo":-2.1,"hi":0.2,"s":"pco"},{"el":72,"lo":-2.6,"hi":-0.2,"s":"pco"},{"el":78,"lo":-3.2,"hi":-1.4,"s":"pco"},{"el":85,"lo":-3.7,"hi":-1.8,"s":"pco"},{"el":90,"lo":-3.2,"hi":-2.1,"s":"pco"},
    {"el":7.8,"lo":-2.0,"hi":8.7,"s":"zero"},{"el":8.5,"lo":-1.5,"hi":8.5,"s":"zero"},{"el":9.7,"lo":0,"hi":7.6,"s":"zero"},{"el":10.5,"lo":-0.1,"hi":7.3,"s":"zero"},{"el":15,"lo":-0.2,"hi":5.5,"s":"zero"},{"el":21,"lo":-0.7,"hi":4.6,"s":"zero"},{"el":25,"lo":-0.9,"hi":3.9,"s":"zero"},{"el":29,"lo":-1.0,"hi":3.2,"s":"zero"},{"el":32,"lo":-1.1,"hi":2.4,"s":"zero"},{"el":35,"lo":-1.3,"hi":1.6,"s":"zero"},{"el":40,"lo":-1.5,"hi":0.9,"s":"zero"},{"el":47.5,"lo":-1.8,"hi":0.45,"s":"zero"},{"el":57,"lo":-2.1,"hi":-0.1,"s":"zero"},{"el":66,"lo":-2.5,"hi":-0.2,"s":"zero"},{"el":72,"lo":-2.3,"hi":-0.3,"s":"zero"},{"el":78,"lo":-1.8,"hi":-0.45,"s":"zero"},{"el":84,"lo":-1.6,"hi":-0.3,"s":"zero"},{"el":90,"lo":-1.4,"hi":-0.2,"s":"zero"}
  ]
},
"resolve": {"scale": {"color": "independent"}, "legend": {"color": "independent"}},
"spacing": 13,
"vconcat": [
 {"spacing": 1, "hconcat": [
  {"width": 193, "height": 147, "title": "(a)  LDB2 - Δ(Δδtᵣˢ)",
   "layer": [
    {"data": {"name": "a"}, "mark": {"type": "line", "strokeWidth": 2.8},
     "encoding": {
      "x": {"field": "t", "type": "quantitative", "scale": {"domain": [0, 24], "nice": false}, "axis": {"title": "GPS Time [hours]", "tickCount": 200, "values": [0,1,2,3,4,5,6,7,8,9,10,11,12,13,14,15,16,17,18,19,20,21,22,23,24], "labelExpr": "datum.value % 4 === 0 ? format(datum.value, 'd') : ''", "gridColor": {"condition": {"test": "datum.value % 4 === 0", "value": "#b5b5b5"}, "value": "#dcdcdc"}, "gridDash": {"condition": {"test": "datum.value % 4 === 0", "value": [2, 2]}, "value": [1, 2]}}},
      "y": {"field": "v", "type": "quantitative", "scale": {"domain": [-12, 4], "nice": false}, "axis": {"title": "[mm]", "tickCount": 200, "values": [-12,-11.5,-11,-10.5,-10,-9.5,-9,-8.5,-8,-7.5,-7,-6.5,-6,-5.5,-5,-4.5,-4,-3.5,-3,-2.5,-2,-1.5,-1,-0.5,0,0.5,1,1.5,2,2.5,3,3.5,4], "labelExpr": "datum.value % 2 === 0 ? format(datum.value, 'd') : ''", "gridColor": {"condition": {"test": "datum.value % 2 === 0", "value": "#b5b5b5"}, "value": "#dcdcdc"}, "gridDash": {"condition": {"test": "datum.value % 2 === 0", "value": [2, 2]}, "value": [1, 2]}}},
      "color": {"field": "s", "type": "nominal", "scale": {"domain": ["pco", "zero"], "range": ["#6579aa", "#efb21e"]}, "legend": {"title": null, "orient": "top-right", "labelExpr": "datum.value == 'pco' ? 'PCCᵣ*ˢ = PCOₗ₀' : 'PCCᵣ*ˢ = 0'"}},
      "detail": {"field": "s"}
     }},
    {"data": {"values": [{"t": 5.7, "t2": 15.1, "v": -2.6, "v2": -4.0}, {"t": 5.7, "t2": 15.1, "v": -9.8, "v2": -11.2}]}, "mark": {"type": "rect", "fill": "white", "stroke": "#cfcfcf", "strokeWidth": 0.8},
     "encoding": {"x": {"field": "t", "type": "quantitative"}, "x2": {"field": "t2"}, "y": {"field": "v", "type": "quantitative"}, "y2": {"field": "v2"}}},
    {"data": {"values": [{"t": 10.4, "v": -3.3, "label": "mean: Δ(Δδtᵣˢ) [-0.7 mm]"}]}, "mark": {"type": "text", "fontSize": 6.5, "font": "DejaVu Sans", "color": "#999"},
     "encoding": {"x": {"field": "t", "type": "quantitative"}, "y": {"field": "v", "type": "quantitative"}, "text": {"field": "label"}}},
    {"data": {"values": [{"t": 10.4, "v": -10.5, "label": "mean: Δ(Δδtᵣˢ) [-8.6 mm]"}]}, "mark": {"type": "text", "fontSize": 6.5, "font": "DejaVu Sans", "color": "#6579aa"},
     "encoding": {"x": {"field": "t", "type": "quantitative"}, "y": {"field": "v", "type": "quantitative"}, "text": {"field": "label"}}},
    {"data": {"values": [{"t": 5.6, "v": -2.6, "t2": 4.5, "v2": -1.15}, {"t": 5.9, "v": -9.8, "t2": 5.0, "v2": -8.95}]}, "mark": {"type": "rule", "color": "#333", "strokeWidth": 1},
     "encoding": {"x": {"field": "t", "type": "quantitative"}, "x2": {"field": "t2"}, "y": {"field": "v", "type": "quantitative"}, "y2": {"field": "v2"}}},
    {"data": {"values": [{"t": 4.5, "v": -1.15}, {"t": 5.0, "v": -8.95}]}, "mark": {"type": "point", "shape": "triangle-up", "filled": true, "color": "#222", "size": 22, "angle": 330, "opacity": 1},
     "encoding": {"x": {"field": "t", "type": "quantitative"}, "y": {"field": "v", "type": "quantitative"}}}
   ]},
  {"width": 193, "height": 147, "title": "(b)  LDB2 - ΔbL0,GPS",
   "layer": [
    {"data": {"name": "b"}, "transform": [{"filter": "datum.s == 'pco'"}], "mark": {"type": "line", "strokeWidth": 2.4, "clip": true},
     "encoding": {
      "x": {"field": "t", "type": "quantitative", "scale": {"domain": [0, 24], "nice": false}, "axis": {"title": "GPS Time [hours]", "tickCount": 200, "values": [0,1,2,3,4,5,6,7,8,9,10,11,12,13,14,15,16,17,18,19,20,21,22,23,24], "labelExpr": "datum.value % 4 === 0 ? format(datum.value, 'd') : ''", "gridColor": {"condition": {"test": "datum.value % 4 === 0", "value": "#b5b5b5"}, "value": "#dcdcdc"}, "gridDash": {"condition": {"test": "datum.value % 4 === 0", "value": [2, 2]}, "value": [1, 2]}}},
      "y": {"field": "v", "type": "quantitative", "scale": {"domain": [-12, 12], "nice": false}, "axis": {"title": "[mm]", "tickCount": 200, "values": [-12,-11.5,-11,-10.5,-10,-9.5,-9,-8.5,-8,-7.5,-7,-6.5,-6,-5.5,-5,-4.5,-4,-3.5,-3,-2.5,-2,-1.5,-1,-0.5,0,0.5,1,1.5,2,2.5,3,3.5,4,4.5,5,5.5,6,6.5,7,7.5,8,8.5,9,9.5,10,10.5,11,11.5,12], "labelExpr": "datum.value % 2 === 0 ? format(datum.value, 'd') : ''", "gridColor": {"condition": {"test": "datum.value % 2 === 0", "value": "#b5b5b5"}, "value": "#dcdcdc"}, "gridDash": {"condition": {"test": "datum.value % 2 === 0", "value": [2, 2]}, "value": [1, 2]}}},
      "color": {"field": "s", "type": "nominal", "scale": {"domain": ["pco", "zero"], "range": ["#6579aa", "#efb21e"]}, "legend": {"title": null, "orient": "top-right", "labelExpr": "datum.value == 'pco' ? 'PCCᵣ*ˢ = PCOₗ₀' : 'PCCᵣ*ˢ = 0'"}},
      "detail": {"field": "a"}
     }},
    {"data": {"name": "b"}, "transform": [{"filter": "datum.s == 'zero'"}], "mark": {"type": "line", "strokeWidth": 2.4, "clip": true},
     "encoding": {"x": {"field": "t", "type": "quantitative"}, "y": {"field": "v", "type": "quantitative"}, "color": {"field": "s", "type": "nominal"}, "detail": {"field": "a"}}}
   ]},
  {"width": 193, "height": 147, "title": "(c)  LDB2 - Δ GPS postfit residuals (code)",
   "layer": [
    {"data": {"name": "c"}, "transform": [{"filter": "datum.s == 'pco'"}], "mark": {"type": "area", "opacity": 1},
     "encoding": {
      "x": {"field": "el", "type": "quantitative", "scale": {"domain": [0, 90], "nice": false}, "axis": {"title": "Elevation [°]", "tickCount": 200, "values": [0,3,6,9,12,15,18,21,24,27,30,33,36,39,42,45,48,51,54,57,60,63,66,69,72,75,78,81,84,87,90], "labelExpr": "datum.value % 15 === 0 ? format(datum.value, 'd') : ''", "gridColor": {"condition": {"test": "datum.value % 15 === 0", "value": "#b5b5b5"}, "value": "#dcdcdc"}, "gridDash": {"condition": {"test": "datum.value % 15 === 0", "value": [2, 2]}, "value": [1, 2]}}},
      "y": {"field": "lo", "type": "quantitative", "scale": {"domain": [-10, 10], "nice": false}, "axis": {"title": "[mm]", "tickCount": 200, "values": [-10,-9.5,-9,-8.5,-8,-7.5,-7,-6.5,-6,-5.5,-5,-4.5,-4,-3.5,-3,-2.5,-2,-1.5,-1,-0.5,0,0.5,1,1.5,2,2.5,3,3.5,4,4.5,5,5.5,6,6.5,7,7.5,8,8.5,9,9.5,10], "labelExpr": "datum.value % 2 === 0 ? format(datum.value, 'd') : ''", "gridColor": {"condition": {"test": "datum.value % 2 === 0", "value": "#b5b5b5"}, "value": "#dcdcdc"}, "gridDash": {"condition": {"test": "datum.value % 2 === 0", "value": [2, 2]}, "value": [1, 2]}}},
      "y2": {"field": "hi"},
      "color": {"field": "s", "type": "nominal", "scale": {"domain": ["pco", "zero"], "range": ["#6579aa", "#efb21e"]}, "legend": {"title": null, "orient": "top-right", "labelExpr": "datum.value == 'pco' ? 'PCCᵣ*ˢ = PCOₗ₀' : 'PCCᵣ*ˢ = 0'"}}
     }},
    {"data": {"name": "c"}, "transform": [{"filter": "datum.s == 'zero'"}], "mark": {"type": "area", "opacity": 1},
     "encoding": {"x": {"field": "el", "type": "quantitative"}, "y": {"field": "lo", "type": "quantitative"}, "y2": {"field": "hi"}, "color": {"field": "s", "type": "nominal"}}}
   ]}
 ], "resolve": {"scale": {"color": "independent"}, "legend": {"color": "independent"}}},
 {"spacing": 1, "hconcat": [
  {"width": 193, "height": 147, "title": "(d)  AUBG-2 - Δ(Δδtᵣˢ)",
   "layer": [
    {"data": {"name": "d"}, "mark": {"type": "line", "strokeWidth": 2.8},
     "encoding": {
      "x": {"field": "t", "type": "quantitative", "scale": {"domain": [0, 24], "nice": false}, "axis": {"title": "GPS Time [hours]", "tickCount": 200, "values": [0,1,2,3,4,5,6,7,8,9,10,11,12,13,14,15,16,17,18,19,20,21,22,23,24], "labelExpr": "datum.value % 4 === 0 ? format(datum.value, 'd') : ''", "gridColor": {"condition": {"test": "datum.value % 4 === 0", "value": "#b5b5b5"}, "value": "#dcdcdc"}, "gridDash": {"condition": {"test": "datum.value % 4 === 0", "value": [2, 2]}, "value": [1, 2]}}},
      "y": {"field": "v", "type": "quantitative", "scale": {"domain": [-12, 4], "nice": false}, "axis": {"title": "[mm]", "tickCount": 200, "values": [-12,-11.5,-11,-10.5,-10,-9.5,-9,-8.5,-8,-7.5,-7,-6.5,-6,-5.5,-5,-4.5,-4,-3.5,-3,-2.5,-2,-1.5,-1,-0.5,0,0.5,1,1.5,2,2.5,3,3.5,4], "labelExpr": "datum.value % 2 === 0 ? format(datum.value, 'd') : ''", "gridColor": {"condition": {"test": "datum.value % 2 === 0", "value": "#b5b5b5"}, "value": "#dcdcdc"}, "gridDash": {"condition": {"test": "datum.value % 2 === 0", "value": [2, 2]}, "value": [1, 2]}}},
      "color": {"field": "s", "type": "nominal", "scale": {"domain": ["pco", "zero"], "range": ["#6579aa", "#efb21e"]}, "legend": {"title": null, "orient": "bottom-right", "labelExpr": "datum.value == 'pco' ? 'PCCᵣ*ˢ = PCOₗ₀' : 'PCCᵣ*ˢ=0'"}},
      "detail": {"field": "s"}
     }},
    {"data": {"values": [{"t": 0.6, "t2": 10.2, "v": -1.77, "v2": -3.29}, {"t": 0.6, "t2": 10.2, "v": -7.97, "v2": -9.4}]}, "mark": {"type": "rect", "fill": "white", "stroke": "#cfcfcf", "strokeWidth": 0.8},
     "encoding": {"x": {"field": "t", "type": "quantitative"}, "x2": {"field": "t2"}, "y": {"field": "v", "type": "quantitative"}, "y2": {"field": "v2"}}},
    {"data": {"values": [{"t": 5.4, "v": -2.53, "label": "mean: Δ(Δδtᵣˢ) [+1.0 mm]"}]}, "mark": {"type": "text", "fontSize": 6.5, "font": "DejaVu Sans", "color": "#999"},
     "encoding": {"x": {"field": "t", "type": "quantitative"}, "y": {"field": "v", "type": "quantitative"}, "text": {"field": "label"}}},
    {"data": {"values": [{"t": 5.4, "v": -8.7, "label": "mean: Δ(Δδtᵣˢ) [-5.3 mm]"}]}, "mark": {"type": "text", "fontSize": 6.5, "font": "DejaVu Sans", "color": "#6579aa"},
     "encoding": {"x": {"field": "t", "type": "quantitative"}, "y": {"field": "v", "type": "quantitative"}, "text": {"field": "label"}}},
    {"data": {"values": [{"t": 5.4, "v": -1.77, "t2": 4.6, "v2": -0.6}, {"t": 5.4, "v": -7.97, "t2": 4.55, "v2": -6.55}]}, "mark": {"type": "rule", "color": "#333", "strokeWidth": 1},
     "encoding": {"x": {"field": "t", "type": "quantitative"}, "x2": {"field": "t2"}, "y": {"field": "v", "type": "quantitative"}, "y2": {"field": "v2"}}},
    {"data": {"values": [{"t": 4.6, "v": -0.6}, {"t": 4.55, "v": -6.55}]}, "mark": {"type": "point", "shape": "triangle-up", "filled": true, "color": "#222", "size": 22, "angle": 330, "opacity": 1},
     "encoding": {"x": {"field": "t", "type": "quantitative"}, "y": {"field": "v", "type": "quantitative"}}}
   ]},
  {"width": 193, "height": 147, "title": "(e)  AUBG-2 - ΔbL0,GPS",
   "layer": [
    {"data": {"name": "e"}, "transform": [{"filter": "datum.s == 'pco'"}], "mark": {"type": "line", "strokeWidth": 2.4, "clip": true},
     "encoding": {
      "x": {"field": "t", "type": "quantitative", "scale": {"domain": [0, 24], "nice": false}, "axis": {"title": "GPS Time [hours]", "tickCount": 200, "values": [0,1,2,3,4,5,6,7,8,9,10,11,12,13,14,15,16,17,18,19,20,21,22,23,24], "labelExpr": "datum.value % 4 === 0 ? format(datum.value, 'd') : ''", "gridColor": {"condition": {"test": "datum.value % 4 === 0", "value": "#b5b5b5"}, "value": "#dcdcdc"}, "gridDash": {"condition": {"test": "datum.value % 4 === 0", "value": [2, 2]}, "value": [1, 2]}}},
      "y": {"field": "v", "type": "quantitative", "scale": {"domain": [-12, 12], "nice": false}, "axis": {"title": "[mm]", "tickCount": 200, "values": [-12,-11.5,-11,-10.5,-10,-9.5,-9,-8.5,-8,-7.5,-7,-6.5,-6,-5.5,-5,-4.5,-4,-3.5,-3,-2.5,-2,-1.5,-1,-0.5,0,0.5,1,1.5,2,2.5,3,3.5,4,4.5,5,5.5,6,6.5,7,7.5,8,8.5,9,9.5,10,10.5,11,11.5,12], "labelExpr": "datum.value % 2 === 0 ? format(datum.value, 'd') : ''", "gridColor": {"condition": {"test": "datum.value % 2 === 0", "value": "#b5b5b5"}, "value": "#dcdcdc"}, "gridDash": {"condition": {"test": "datum.value % 2 === 0", "value": [2, 2]}, "value": [1, 2]}}},
      "color": {"field": "s", "type": "nominal", "scale": {"domain": ["pco", "zero"], "range": ["#6579aa", "#efb21e"]}, "legend": {"title": null, "orient": "top-right", "labelExpr": "datum.value == 'pco' ? 'PCCᵣ*ˢ=PCOₗ₀' : 'PCCᵣ*ˢ=0'"}},
      "detail": {"field": "a"}
     }},
    {"data": {"name": "e"}, "transform": [{"filter": "datum.s == 'zero'"}], "mark": {"type": "line", "strokeWidth": 2.4, "clip": true},
     "encoding": {"x": {"field": "t", "type": "quantitative"}, "y": {"field": "v", "type": "quantitative"}, "color": {"field": "s", "type": "nominal"}, "detail": {"field": "a"}}}
   ]},
  {"width": 193, "height": 147, "title": "(f)  AUBG-2 - Δ GPS postfit residuals (code)",
   "layer": [
    {"data": {"name": "f"}, "transform": [{"filter": "datum.s == 'pco'"}], "mark": {"type": "area", "opacity": 1},
     "encoding": {
      "x": {"field": "el", "type": "quantitative", "scale": {"domain": [0, 90], "nice": false}, "axis": {"title": "Elevation [degree]", "tickCount": 200, "values": [0,3,6,9,12,15,18,21,24,27,30,33,36,39,42,45,48,51,54,57,60,63,66,69,72,75,78,81,84,87,90], "labelExpr": "datum.value % 15 === 0 ? format(datum.value, 'd') : ''", "gridColor": {"condition": {"test": "datum.value % 15 === 0", "value": "#b5b5b5"}, "value": "#dcdcdc"}, "gridDash": {"condition": {"test": "datum.value % 15 === 0", "value": [2, 2]}, "value": [1, 2]}}},
      "y": {"field": "lo", "type": "quantitative", "scale": {"domain": [-10, 10], "nice": false}, "axis": {"title": "[mm]", "tickCount": 200, "values": [-10,-9.5,-9,-8.5,-8,-7.5,-7,-6.5,-6,-5.5,-5,-4.5,-4,-3.5,-3,-2.5,-2,-1.5,-1,-0.5,0,0.5,1,1.5,2,2.5,3,3.5,4,4.5,5,5.5,6,6.5,7,7.5,8,8.5,9,9.5,10], "labelExpr": "datum.value % 2 === 0 ? format(datum.value, 'd') : ''", "gridColor": {"condition": {"test": "datum.value % 2 === 0", "value": "#b5b5b5"}, "value": "#dcdcdc"}, "gridDash": {"condition": {"test": "datum.value % 2 === 0", "value": [2, 2]}, "value": [1, 2]}}},
      "y2": {"field": "hi"},
      "color": {"field": "s", "type": "nominal", "scale": {"domain": ["pco", "zero"], "range": ["#6579aa", "#efb21e"]}, "legend": {"title": null, "orient": "top-right", "labelExpr": "datum.value == 'pco' ? 'PCCᵣ*ˢ=PCOₗ₀' : 'PCCᵣ*ˢ=0'"}}
     }},
    {"data": {"name": "f"}, "transform": [{"filter": "datum.s == 'zero'"}], "mark": {"type": "area", "opacity": 1},
     "encoding": {"x": {"field": "el", "type": "quantitative"}, "y": {"field": "lo", "type": "quantitative"}, "y2": {"field": "hi"}, "color": {"field": "s", "type": "nominal"}}}
   ]}
 ], "resolve": {"scale": {"color": "independent"}, "legend": {"color": "independent"}}}
]
}
